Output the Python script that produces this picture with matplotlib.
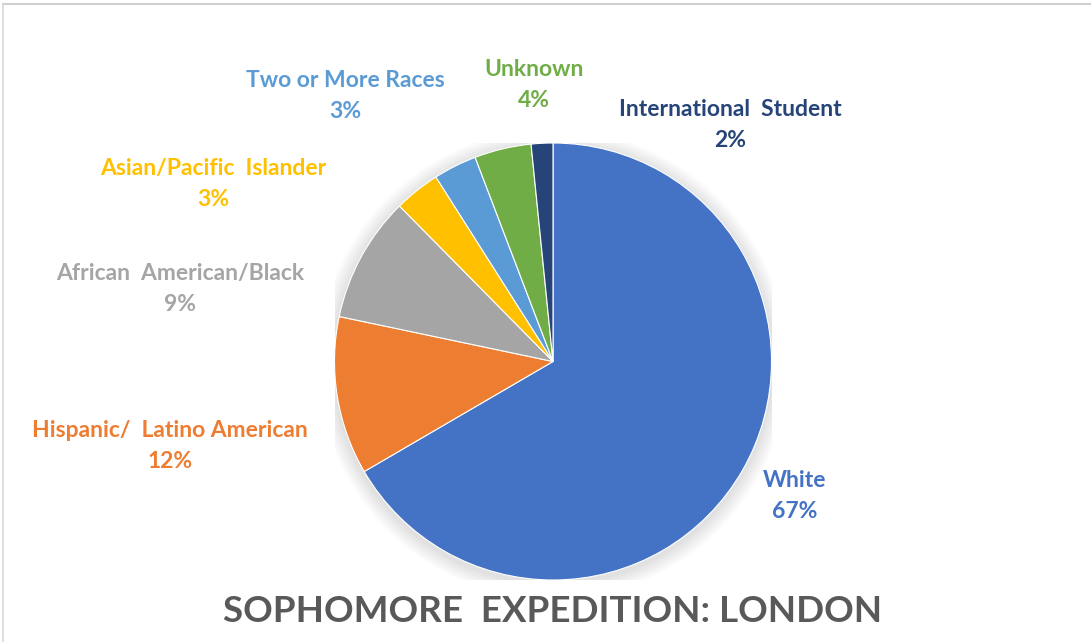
import matplotlib.pyplot as plt
from matplotlib.lines import Line2D
from matplotlib.patches import Circle

# slices, clockwise from 12 o'clock
groups = ["White", "Hispanic/  Latino American", "African  American/Black",
          "Asian/Pacific  Islander", "Two or More Races", "Unknown",
          "International  Student"]
shares = [66.6, 11.7, 9.3, 3.4, 3.2, 4.2, 1.6]
colors = ["#4472C4", "#ED7D31", "#A5A5A5", "#FFC000", "#5B9BD5", "#70AD47", "#264478"]
title = "SOPHOMORE  EXPEDITION: LONDON"

# label centres in pixels (x, y from top)
label_pos = [(795, 496), (170, 446), (180, 289), (213, 184), (345, 96),
             (534, 85), (730, 125)]

W, H = 1091, 642
fig = plt.figure(figsize=(W / 100, H / 100), dpi=100)
fig.patch.set_facecolor("white")

cx, cy, r = 553, 361.5, 218.5
ax = fig.add_axes([(cx - r) / W, (H - cy - r) / H, 2 * r / W, 2 * r / H])

# soft shadow behind the pie
for i in range(6):
    ax.add_patch(Circle((0, -0.012), 1.0 + 0.012 * (i + 1), color="black",
                        alpha=0.018, lw=0, zorder=0))

ax.pie(shares, colors=colors, startangle=90, counterclock=False, radius=1,
       wedgeprops=dict(linewidth=0.8, edgecolor="white"))
ax.set_xlim(-1, 1)
ax.set_ylim(-1, 1)
ax.set_aspect("equal")
ax.axis("off")

for g, s, c, (px, py) in zip(groups, shares, colors, label_pos):
    fig.text(px / W, 1 - py / H, "%s\n%.0f%%" % (g, s), color=c,
             ha="center", va="center", fontsize=16.5, fontweight="bold",
             family="Lato", linespacing=1.6)

fig.text(552.5 / W, 1 - 611 / H, title, color="#595959", ha="center",
         va="center", fontsize=26.5, fontweight="bold", family="Lato")

# frame edges visible in the screenshot
fig.add_artist(Line2D([3 / W, 1], [1 - 4 / H, 1 - 4 / H], color="#D0D0D0", lw=1.5))
fig.add_artist(Line2D([3 / W, 3 / W], [0, 1 - 4 / H], color="#D9D9D9", lw=1.2))

fig.savefig("out.png", dpi=100, facecolor="white")
